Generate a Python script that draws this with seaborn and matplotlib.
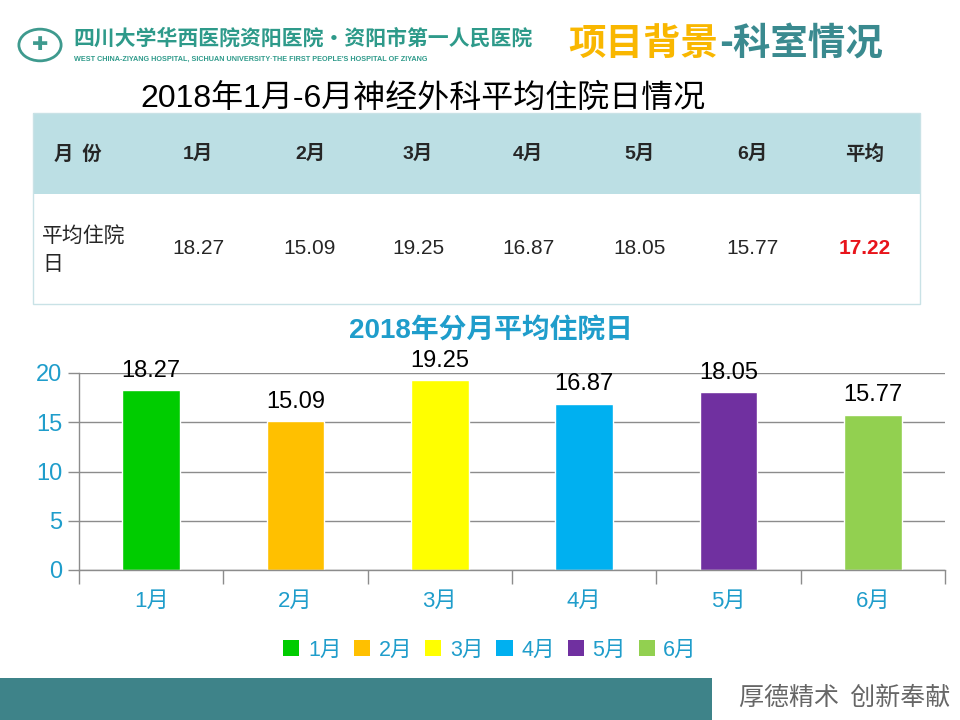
import matplotlib
matplotlib.use('Agg')
import matplotlib.pyplot as plt
import seaborn as sns
import pandas as pd
from matplotlib.patches import Rectangle, Circle, Patch

# data
months = ['1月', '2月', '3月', '4月', '5月', '6月']
stay_days = [18.27, 15.09, 19.25, 16.87, 18.05, 15.77]
avg_days = 17.22
bar_colors = ['#00CC00', '#FFC000', '#FFFF00', '#00B0F0', '#7030A0', '#92D050']
y_ticks = [0, 5, 10, 15, 20]

sns.set_theme(style='white')
CJK = ['Liberation Sans', 'Noto Sans CJK SC', 'DejaVu Sans']
plt.rcParams['font.family'] = CJK
plt.rcParams['axes.unicode_minus'] = False

W, H = 960, 720
fig = plt.figure(figsize=(9.6, 7.2), dpi=100)
fig.patch.set_facecolor('white')


def fx(px):
    return px / W


def fy(py):
    return 1 - py / H


# header
teal = '#3A8A8F'
fig.patches.append(Circle((fx(40), fy(45)), 0.022, transform=fig.transFigure,
                          facecolor='white', edgecolor='#3E9A8E', lw=2))
fig.text(fx(40), fy(45), '✚', color='#3E9A8E', fontsize=14, ha='center', va='center',
         family=['DejaVu Sans'])
fig.text(fx(73), fy(38), '四川大学华西医院资阳医院•资阳市第一人民医院', color='#2E9A8A',
         fontsize=15, fontweight='bold', ha='left', va='center',
         family=['Noto Sans CJK SC', 'DejaVu Sans'])
fig.text(fx(74), fy(59), "WEST CHINA-ZIYANG HOSPITAL, SICHUAN UNIVERSITY·THE FIRST PEOPLE'S HOSPITAL OF ZIYANG",
         color='#2E9A8A', fontsize=5.2, fontweight='bold', ha='left', va='center')
fig.text(fx(568), fy(44), '项目背景', color='#F9B700', fontsize=27, fontweight='bold',
         ha='left', va='center', family=['Noto Sans CJK SC'])
fig.text(fx(719), fy(44), '-科室情况', color=teal, fontsize=27, fontweight='bold',
         ha='left', va='center', family=['Noto Sans CJK SC'])

# table
fig.text(fx(140), fy(99), '2018年1月-6月神经外科平均住院日情况', fontsize=23, color='black',
         ha='left', va='center')
tx0, tx1, ty0, ty1, ty2 = 33, 920, 113, 194, 304
fig.patches.append(Rectangle((fx(tx0), fy(ty1)), fx(tx1 - tx0), (ty1 - ty0) / H,
                             transform=fig.transFigure, facecolor='#BCDFE4', edgecolor='none'))
fig.patches.append(Rectangle((fx(tx0), fy(ty2)), fx(tx1 - tx0), (ty2 - ty0) / H,
                             transform=fig.transFigure, facecolor='none', edgecolor='#C9E2E6', lw=1))
col_x = [198, 310, 418, 528, 640, 752]
narrow = ['Liberation Sans Narrow', 'Liberation Sans', 'Noto Sans CJK SC']
fig.text(fx(78), fy(154), '月  份', fontsize=14, fontweight='bold', ha='center', va='center',
         family=['Noto Sans CJK SC'])
for x, m, v in zip(col_x, months, stay_days):
    fig.text(fx(x), fy(154), m, fontsize=14, fontweight='bold', ha='center', va='center', family=narrow)
    fig.text(fx(x), fy(248), f'{v:.2f}', fontsize=15, ha='center', va='center', family=narrow)
fig.text(fx(865), fy(154), '平均', fontsize=14, fontweight='bold', ha='center', va='center',
         family=['Noto Sans CJK SC'])
fig.text(fx(865), fy(248), f'{avg_days:.2f}', fontsize=15, fontweight='bold', color='#E8141B',
         ha='center', va='center', family=narrow)
fig.text(fx(42), fy(236), '平均住院', fontsize=15, ha='left', va='center', family=['Noto Sans CJK SC'])
fig.text(fx(42), fy(264), '日', fontsize=15, ha='left', va='center', family=['Noto Sans CJK SC'])

# bar chart
df = pd.DataFrame({'month': months, 'days': stay_days})
ax = fig.add_axes([fx(79), fy(570), fx(945 - 79), (570 - 373) / H])
sns.barplot(data=df, x='month', y='days', hue='month', palette=bar_colors, width=0.4,
            dodge=False, legend=False, saturation=1, ax=ax)
for c in ax.containers:
    ax.bar_label(c, fmt='%.2f', padding=6, fontsize=17, color='black')

blue = '#1F9DCB'
ax.set_ylim(0, 20)
ax.set_xlim(-0.5, 5.5)
ax.set_yticks(y_ticks)
ax.yaxis.grid(True, color='#8C8C8C', lw=1)
ax.set_axisbelow(True)
ax.set_xlabel('')
ax.set_ylabel('')
for s in ['top', 'right']:
    ax.spines[s].set_visible(False)
for s in ['left', 'bottom']:
    ax.spines[s].set_color('#8C8C8C')
    ax.spines[s].set_linewidth(1)
ax.tick_params(axis='y', colors='#8C8C8C', labelcolor=blue, labelsize=17, length=8, width=1,
               left=True, direction='out', pad=4)
ax.tick_params(axis='x', which='major', length=0, labelcolor=blue, labelsize=16, pad=15)
ax.set_xticks([i - 0.5 for i in range(len(months) + 1)], minor=True)
ax.tick_params(axis='x', which='minor', bottom=True, length=10, width=1, color='#8C8C8C',
               direction='out')
for lbl in ax.get_xticklabels() + ax.get_yticklabels():
    lbl.set_family(CJK)

fig.text(fx(491), fy(331), '2018年分月平均住院日', color=blue, fontsize=20, fontweight='bold',
         ha='center', va='center')

handles = [Patch(facecolor=c, edgecolor='none', label=m) for m, c in zip(months, bar_colors)]
leg = fig.legend(handles=handles, loc='center', bbox_to_anchor=(fx(490), fy(650)), ncol=6,
                 frameon=False, fontsize=15.5, handlelength=0.75, handleheight=0.75,
                 handletextpad=0.4, columnspacing=0.6)
for t in leg.get_texts():
    t.set_color(blue)

# footer
fig.patches.append(Rectangle((0, 0), fx(712), 42 / H, transform=fig.transFigure,
                             facecolor='#3E8389', edgecolor='none'))
fig.text(fx(845), fy(698), '厚德精术  创新奉献', fontsize=18, color='#666666', ha='center',
         va='center', family=['Noto Sans CJK SC'], fontweight='light')

fig.savefig('out.png', dpi=100, facecolor='white')
